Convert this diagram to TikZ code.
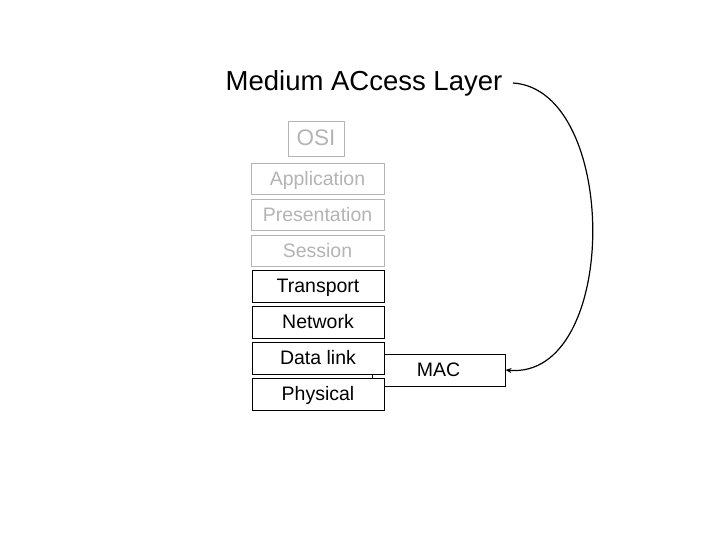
\documentclass[tikz,border=0pt]{standalone}
\usepackage{fontspec}
\setmainfont{Liberation Sans}
\usetikzlibrary{arrows.meta}
\definecolor{lightgr}{RGB}{180,180,180}
\begin{document}
\begin{tikzpicture}[x=1pt,y=-1pt,
  txt/.style={text height=16pt,text depth=2.5pt},
  layer/.style={draw=black,fill=white,line width=0.9pt,minimum width=132pt,minimum height=32pt,inner sep=0pt,txt,font=\fontsize{19.5}{20}\selectfont},
  ghost/.style={layer,draw=lightgr,text=lightgr,minimum width=133pt,minimum height=31pt},
  conn/.style={line width=1.2pt,-{Stealth[length=6pt,width=5pt]}}]
\useasboundingbox (0,0) rectangle (720,540);
\node[font=\fontsize{27.5}{28}\selectfont] (title) at (364,83) {Medium ACcess Layer};
\node[draw=lightgr,text=lightgr,line width=0.9pt,minimum width=56pt,minimum height=35pt,inner sep=0pt,text height=18pt,text depth=3pt,font=\fontsize{22.5}{23}\selectfont] (osi) at (316,138.5) {OSI};
\node[draw=black,line width=0.9pt,minimum width=133pt,minimum height=32pt,inner sep=0pt,txt,font=\fontsize{19.5}{20}\selectfont] (mac) at (438.5,370) {MAC};
\node[ghost] (app) at (317.5,178.5) {Application};
\node[ghost] (pres) at (317.5,214.5) {Presentation};
\node[ghost] (sess) at (317.5,250.5) {Session};
\node[layer] (trans) at (318,286) {Transport};
\node[layer] (net) at (318,322) {Network};
\node[layer] (dl) at (318,358) {Data link};
\node[layer] (phys) at (318,394) {Physical};
\coordinate (start) at (513,83);
\draw[conn] (start) .. controls (620,90) and (620,380) .. (mac.east);
\end{tikzpicture}
\end{document}
